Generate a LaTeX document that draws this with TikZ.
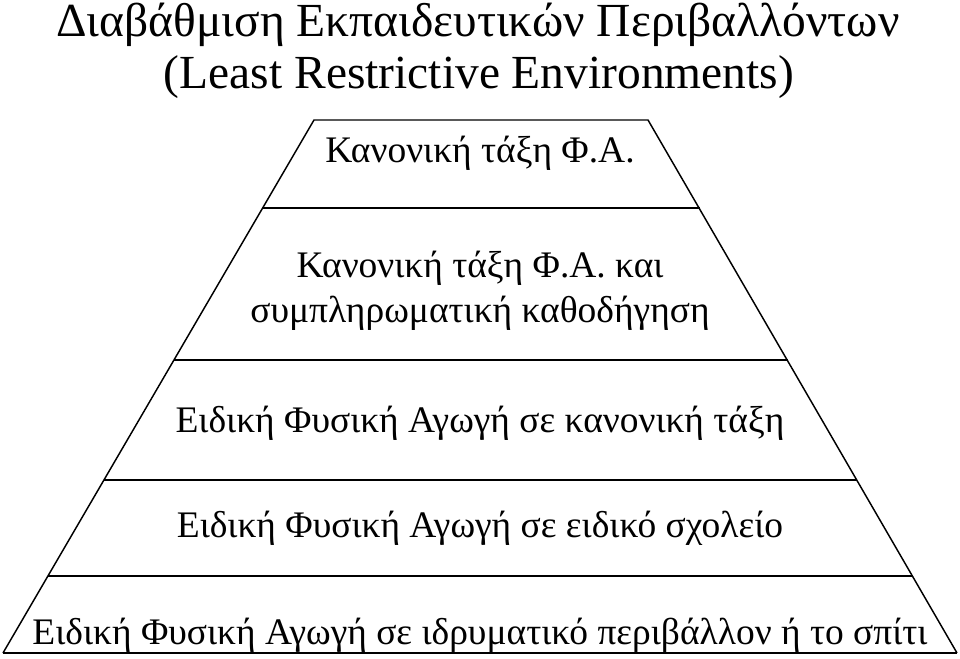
\documentclass[tikz,border=0pt]{standalone}
\usepackage{fontspec}
\setmainfont{Liberation Serif}
\begin{document}
\begin{tikzpicture}[x=0.75pt,y=-0.75pt,
  edge/.style={line width=1.1pt,black},
  title/.style={anchor=base,inner sep=0pt,font=\fontsize{35.6}{42}\selectfont},
  label/.style={anchor=base,inner sep=0pt,font=\fontsize{28.1}{33}\selectfont}]
\useasboundingbox (0,0) rectangle (960,659);
% edge points
\coordinate (l0) at (314,120);   \coordinate (r0) at (648,120);
\coordinate (l1) at (262.7,208); \coordinate (r1) at (700,208);
\coordinate (l2) at (174,360);   \coordinate (r2) at (788,360);
\coordinate (l3) at (104,480);   \coordinate (r3) at (857,480);
\coordinate (l4) at (48,576);    \coordinate (r4) at (912,576);
\coordinate (l5) at (3,653);     \coordinate (r5) at (957,653);
\draw[edge] (l5) -- (l0) -- (r0) -- (r5);
\draw[edge] (l1) -- (r1);
\draw[edge] (l2) -- (r2);
\draw[edge] (l3) -- (r3);
\draw[edge] (l4) -- (r4);
\draw[edge,line width=1.5pt] (l5) -- (r5);
% texts
\node[title] (t1) at (478,37) {Διαβάθμιση Εκπαιδευτικών Περιβαλλόντων};
\node[title] (t2) at (479,89) {(Least Restrictive Environments)};
\node[label] (a) at (480,163) {Κανονική τάξη Φ.Α.};
\node[label] (b1) at (480,277) {Κανονική τάξη Φ.Α. και};
\node[label] (b2) at (480,322) {συμπληρωματική καθοδήγηση};
\node[label] (c) at (480,432) {Ειδική Φυσική Αγωγή σε κανονική τάξη};
\node[label] (d) at (480,537) {Ειδική Φυσική Αγωγή σε ειδικό σχολείο};
\node[label] (e) at (480,644) {Ειδική Φυσική Αγωγή σε ιδρυματικό περιβάλλον ή το σπίτι};
\end{tikzpicture}
\end{document}
